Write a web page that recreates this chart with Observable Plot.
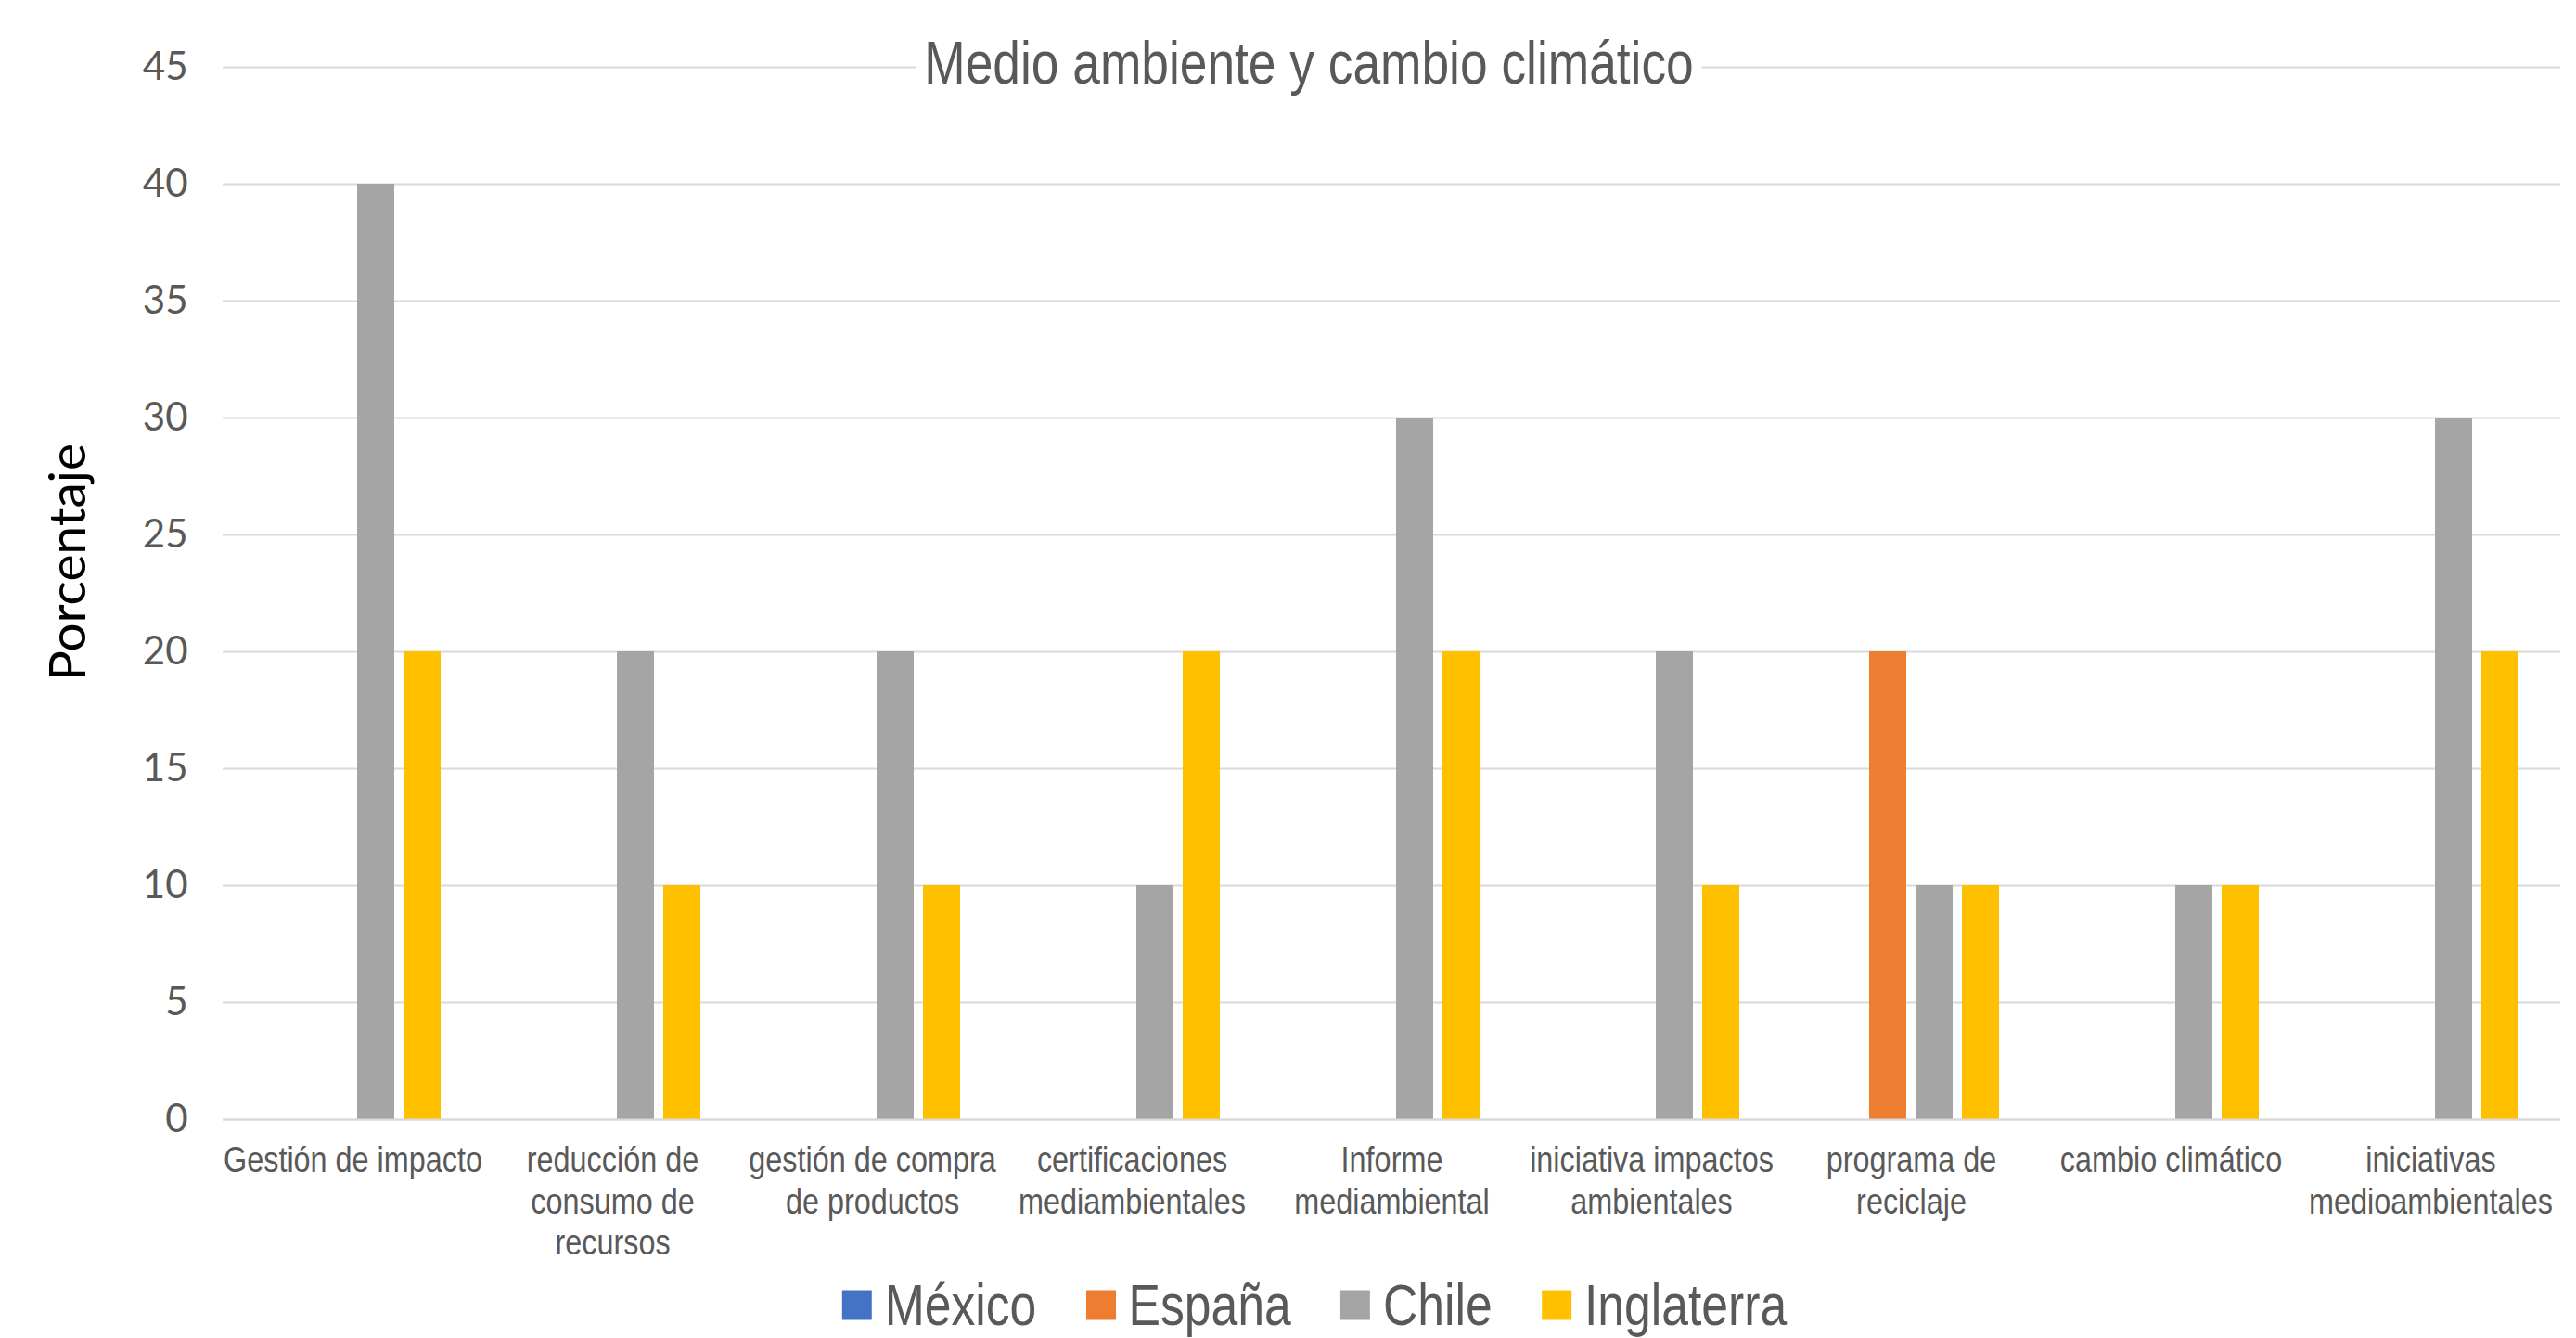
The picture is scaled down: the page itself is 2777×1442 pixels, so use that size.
<!DOCTYPE html>
<html>
<head>
<meta charset="utf-8">
<script src="https://cdn.jsdelivr.net/npm/d3@7"></script>
<script src="https://cdn.jsdelivr.net/npm/@observablehq/plot@0.6"></script>
<style>
html, body { margin: 0; padding: 0; background: #fff; }
#wrap { position: relative; width: 2777px; height: 1442px; overflow: hidden; background: #fff; }
#chart { position: absolute; left: 0; top: 0; }
.narrow { font-family: 'Liberation Sans', Arial, sans-serif; }
#title { position: absolute; left: 1411px; top: 67px; transform: translate(-50%, -50%) scaleX(0.82); background: #fff;
  padding: 0 10px; font-size: 65px; color: #595959; white-space: nowrap; line-height: 1; }
#ylabel { position: absolute; left: 71px; top: 606px; transform: translate(-50%, -50%) rotate(-90deg);
  font-family: Lato, 'Open Sans', sans-serif; font-size: 55px; color: #000; white-space: nowrap; line-height: 1; }
#legend { position: absolute; left: 1417px; top: 1406px; transform: translate(-50%, -50%) scaleX(0.82); line-height: 1; }
#legend * { line-height: 1; }
#legend > div { margin: 0 !important; min-height: 0 !important; }
.lg-swatch { margin-right: 65px !important; }
.lg-swatch:last-child { margin-right: 0 !important; }
.lg-swatch > svg { margin-right: 17px !important; }
</style>
</head>
<body>
<div id="wrap">
  <div id="chart"></div>
  <div id="title" class="narrow"></div>
  <div id="ylabel"></div>
  <div id="legend"></div>
</div>
<script>
const titleText = "Medio ambiente y cambio climático";
const yLabelText = "Porcentaje";
const categories = [
  "Gestión de impacto",
  "reducción de consumo de recursos",
  "gestión de compra de productos",
  "certificaciones mediambientales",
  "Informe mediambiental",
  "iniciativa impactos ambientales",
  "programa de reciclaje",
  "cambio climático",
  "iniciativas medioambientales"
];
const tickLabels = [
  "Gestión de impacto",
  "reducción de\nconsumo de\nrecursos",
  "gestión de compra\nde productos",
  "certificaciones\nmediambientales",
  "Informe\nmediambiental",
  "iniciativa impactos\nambientales",
  "programa de\nreciclaje",
  "cambio climático",
  "iniciativas\nmedioambientales"
];
const countries = ["México", "España", "Chile", "Inglaterra"];
const colors = ["#4472C4", "#ED7D31", "#A5A5A5", "#FFC000"];
const mexico = [null, null, null, null, null, null, null, null, null];
const espana = [null, null, null, null, null, null, 20, null, null];
const chile = [40, 20, 20, 10, 30, 20, 10, 10, 30];
const inglaterra = [20, 10, 10, 20, 20, 10, 10, 10, 20];
const yTicks = [0, 5, 10, 15, 20, 25, 30, 35, 40, 45];

const series = [mexico, espana, chile, inglaterra];
const data = [];
categories.forEach((c, i) => {
  countries.forEach((k, j) => {
    data.push({category: c, country: k, value: series[j][i]});
  });
});
const labelOf = new Map(categories.map((c, i) => [c, tickLabels[i]]));

const W = 2777, H = 1370;
const narrowFont = "'Liberation Sans', Arial, sans-serif";

const plot = Plot.plot({
  width: W,
  height: H,
  marginLeft: 236,
  marginRight: 14,
  marginTop: 72,
  marginBottom: H - 1206,
  style: {background: "#fff", overflow: "visible"},
  fx: {domain: categories, padding: 0},
  x: {domain: countries, paddingInner: 0.21, paddingOuter: 0.888, axis: null},
  y: {domain: [0, 45]},
  color: {domain: countries, range: colors},
  marks: [
    Plot.gridY(yTicks, {stroke: "#d9d9d9", strokeOpacity: 1, strokeWidth: 2}),
    Plot.barY(data.filter(d => d.value != null), {fx: "category", x: "country", y: "value", fill: "country"}),
    Plot.ruleY([0], {stroke: "#d9d9d9", strokeWidth: 2}),
    Plot.axisY({ticks: yTicks, tickSize: 0, tickPadding: 38, fontSize: 42, label: null,
      fill: "#595959", fontFamily: "Lato, 'Open Sans', sans-serif"}),
    Plot.axisFx({anchor: "bottom", tickSize: 0, tickPadding: 25, label: null, fontSize: 39.5, lineHeight: 1.13,
      fill: "#595959", fontFamily: narrowFont, tickFormat: d => labelOf.get(d)})
  ]
});
// condense the category labels horizontally (narrow typeface look)
d3.select(plot).selectAll('g[aria-label="fx-axis tick label"] text').each(function() {
  const t = this.getAttribute("transform") || "";
  this.setAttribute("transform", t + " scale(0.82,1)");
});
document.getElementById("chart").appendChild(plot);
document.getElementById("title").textContent = titleText;
document.getElementById("ylabel").textContent = yLabelText;

const legend = plot.legend("color", {
  className: "lg",
  swatchWidth: 39,
  swatchHeight: 32,
  style: {fontSize: "63px", fontFamily: narrowFont, color: "#595959", margin: "0", lineHeight: "1"}
});
document.getElementById("legend").appendChild(legend);
</script>
</body>
</html>
